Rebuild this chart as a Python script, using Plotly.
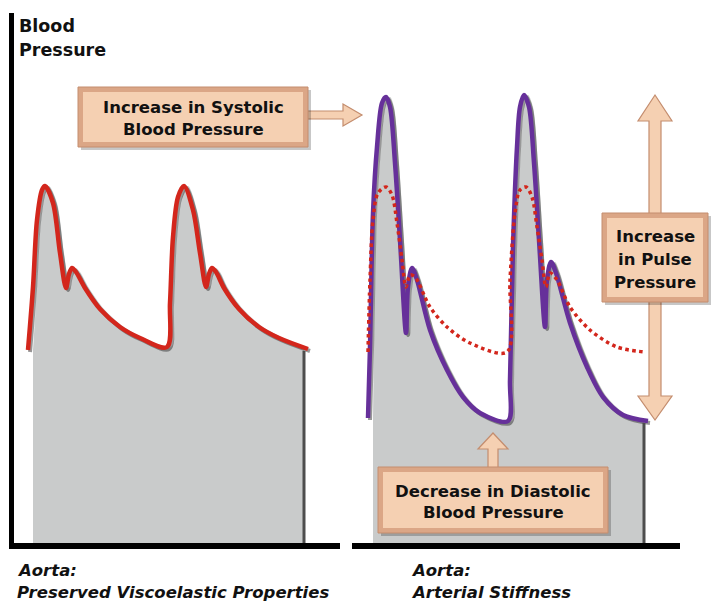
import numpy as np
import plotly.graph_objects as go

# ---------------- data (time in arbitrary units, pressure above baseline) ----------------
normal_t = [28, 33, 37, 42, 45, 53, 60, 66, 69, 72, 76, 85, 100, 120, 140, 167,
            170, 173, 178, 184, 193, 200, 206, 209, 212, 216, 224, 239, 259, 279, 308]
normal_bp = [196, 259, 326, 356, 360, 343, 293, 258, 272, 278, 274, 258, 237, 219, 208, 199,
             243, 309, 349, 360, 336, 293, 259, 272, 278, 274, 258, 237, 219, 208, 197]

stiff_t = [368, 370, 373, 377, 382, 386, 390, 395, 400, 406, 408, 412, 417, 430, 447, 463, 480, 508,
           510, 513, 517, 520, 524, 529, 534, 539, 545, 547, 551, 556, 570, 587, 603, 623, 648]
stiff_bp = [128, 199, 333, 399, 443, 449, 439, 383, 306, 213, 259, 278, 266, 216, 176, 149, 133, 125,
            166, 299, 399, 439, 451, 439, 383, 306, 219, 266, 284, 273, 223, 179, 149, 131, 125]

ref_t = [368, 370, 373, 378, 386, 392, 397, 402, 406, 410, 415, 430, 447, 470, 507,
         510, 515, 520, 526, 532, 537, 542, 546, 550, 557, 570, 590, 617, 645]
ref_bp = [194, 266, 326, 353, 359, 351, 323, 286, 259, 271, 269, 239, 219, 203, 194,
          266, 333, 356, 359, 349, 319, 286, 259, 273, 266, 239, 216, 199, 194]

labels_left = ["Aorta:", "Preserved Viscoelastic Properties"]
labels_right = ["Aorta:", "Arterial Stiffness"]
callouts = {
    "systolic": ["Increase in Systolic", "Blood Pressure"],
    "diastolic": ["Decrease in Diastolic", "Blood Pressure"],
    "pulse": ["Increase", "in Pulse", "Pressure"],
}
y_title = ["Blood", "Pressure"]

# ---------------- styling helpers ----------------
W, H = 718, 610
BASE = 546  # pixel row of the baseline (pressure 0)


def P(px, py):
    return px, BASE - py


def path(points):
    pts = [P(x, y) for x, y in points]
    return "M " + " L ".join(f"{x},{y}" for x, y in pts) + " Z"


FONT = "DejaVu Sans, Arial, sans-serif"
GRAY = "#c9cbcb"
RED = "#d3261c"
PURPLE = "#66309a"
PEACH = "#f5d0b2"
PEACH_DARK = "#dba686"
PEACH_EDGE = "#c48d6e"

fig = go.Figure()

spline = dict(shape="spline", smoothing=0.9)


def add_wave(t, bp, color, shift=4):
    t = np.array(t, dtype=float)
    bp = np.array(bp, dtype=float)
    xf = np.clip(t + shift, t[0] + shift + 1, t[-1] - 4)
    fig.add_trace(go.Scatter(x=xf, y=bp, mode="lines", line=dict(width=0, **spline),
                             fill="tozeroy", fillcolor=GRAY, hoverinfo="skip", showlegend=False))
    fig.add_trace(go.Scatter(x=t + 2, y=bp - 2, mode="lines",
                             line=dict(color="rgba(50,50,50,0.5)", width=4, **spline),
                             hoverinfo="skip", showlegend=False))
    fig.add_trace(go.Scatter(x=t, y=bp, mode="lines", line=dict(color=color, width=4.5, **spline),
                             showlegend=False))
    return t, bp


nt, nbp = add_wave(normal_t, normal_bp, RED)
st, sbp = add_wave(stiff_t, stiff_bp, PURPLE)
fig.add_trace(go.Scatter(x=ref_t, y=ref_bp, mode="lines",
                         line=dict(color=RED, width=3.5, dash="dot", **spline), showlegend=False))

shapes = []
# dark right edges of gray areas
for t, bp in ((nt, nbp), (st, sbp)):
    shapes.append(dict(type="line", x0=t[-1] - 4, x1=t[-1] - 4, y0=bp[-1] - 2, y1=0,
                       line=dict(color="#4d4d4d", width=3)))

# axes
shapes.append(dict(type="line", x0=11.5, x1=11.5, y0=BASE - 13, y1=-3, line=dict(color="black", width=5)))
shapes.append(dict(type="line", x0=9, x1=340, y0=0, y1=0, line=dict(color="black", width=6)))
shapes.append(dict(type="line", x0=352, x1=680, y0=0, y1=0, line=dict(color="black", width=6)))


def box(x0, y0, x1, y1):
    out = []
    out.append(dict(type="rect", x0=x0 + 3, x1=x1 + 3, y0=P(0, y0 + 3)[1], y1=P(0, y1 + 3)[1],
                    fillcolor="rgba(0,0,0,0.22)", line=dict(width=0)))
    out.append(dict(type="rect", x0=x0, x1=x1, y0=P(0, y0)[1], y1=P(0, y1)[1],
                    fillcolor=PEACH_DARK, line=dict(color=PEACH_EDGE, width=1)))
    out.append(dict(type="rect", x0=x0 + 5, x1=x1 - 5, y0=P(0, y0 + 5)[1], y1=P(0, y1 - 5)[1],
                    fillcolor=PEACH, line=dict(width=0)))
    return out


arrow_style = dict(type="path", fillcolor=PEACH, line=dict(color=PEACH_EDGE, width=1.2))

# systolic arrow + box
shapes.append(dict(path=path([(306, 111), (343, 111), (343, 104), (362, 115), (343, 126), (343, 119), (306, 119)]),
                   **arrow_style))
shapes += box(78, 87, 308, 147)

# pulse pressure double arrow + box
shapes.append(dict(path=path([(649, 121), (638, 121), (655, 95), (672, 121), (661, 121), (661, 396),
                              (672, 396), (655, 420), (638, 396), (649, 396)]), **arrow_style))
shapes += box(602, 213, 708, 302)

# diastolic arrow + box
shapes.append(dict(path=path([(488, 468), (488, 449), (478, 449), (493, 433), (508, 449), (498, 449), (498, 468)]),
                   **arrow_style))
shapes += box(378, 467, 608, 533)

annotations = []


def text(lines, px, centers, size=16.5, xanchor="center", italic=False, color="#111"):
    for line, py in zip(lines, centers):
        inner = f"<b><i>{line}</i></b>" if italic else f"<b>{line}</b>"
        x, y = P(px, py)
        annotations.append(dict(x=x, y=y, xref="x", yref="y", text=inner, showarrow=False,
                                xanchor=xanchor, yanchor="middle",
                                font=dict(family=FONT, size=size, color=color)))


text(y_title, 17, [26, 50], size=17.5, xanchor="left")
text(callouts["systolic"], 193, [107, 129])
text(callouts["diastolic"], 493, [491, 512])
text(callouts["pulse"], 655, [236, 259, 282])
text(labels_left, 15, [570, 592], size=16.5, xanchor="left", italic=True)
text(labels_right, 409, [570, 592], size=16.5, xanchor="left", italic=True)

fig.update_layout(
    width=W, height=H,
    margin=dict(l=0, r=0, t=0, b=0),
    paper_bgcolor="white", plot_bgcolor="white",
    xaxis=dict(range=[0, W], visible=False, fixedrange=True),
    yaxis=dict(range=[BASE - H, BASE], visible=False, fixedrange=True),
    shapes=shapes, annotations=annotations, showlegend=False,
)

fig.write_html("out.html")
